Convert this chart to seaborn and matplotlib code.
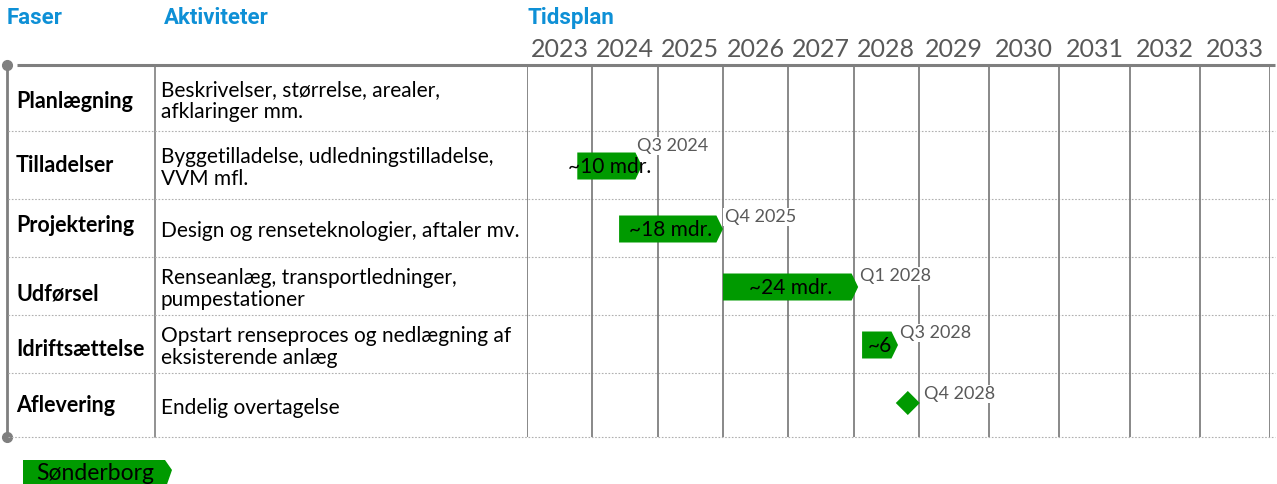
import numpy as np
import matplotlib.pyplot as plt
import seaborn as sns
from matplotlib.patches import Polygon

sns.set_theme(style="white")
plt.rcParams['font.family'] = ['Lato', 'DejaVu Sans']

# --- data -------------------------------------------------------------
phases = ["Planlægning", "Tilladelser", "Projektering", "Udførsel",
          "Idriftsættelse", "Aflevering"]
activities = ["Beskrivelser, størrelse, arealer,\nafklaringer mm.",
              "Byggetilladelse, udledningstilladelse,\nVVM mfl.",
              "Design og renseteknologier, aftaler mv.",
              "Renseanlæg, transportledninger,\npumpestationer",
              "Opstart renseproces og nedlægning af\neksisterende anlæg",
              "Endelig overtagelse"]
years = list(range(2023, 2034))

# bars (phase index, start year, end year, label in bar, end label)
bar_rows = [1, 2, 3, 4]
bar_start = [2023.77, 2024.41, 2026.0, 2028.13]
bar_end = [2024.76, 2026.0, 2028.07, 2028.68]
bar_text = ["~10 mdr.", "~18 mdr.", "~24 mdr.", "~6"]
bar_end_label = ["Q3 2024", "Q4 2025", "Q1 2028", "Q3 2028"]

milestone_row = 5
milestone_x = 2028.83
milestone_label = "Q4 2028"

legend_label = "Sønderborg"

# --- layout (pixels) ----------------------------------------------------
W, H = 1277, 484
row_edges = [65, 131, 199, 257, 315, 373, 437]
row_mid = [(a + b) / 2 for a, b in zip(row_edges[:-1], row_edges[1:])]
phase_dy = [3, 0, -2, 8, 6, 1]
label_dy = [-20, -12, -11, -12, -9]
GREEN = "#009a00"
GREY = "#7f7f7f"
BLUE = "#0e90d6"
TXT_GREY = "#595959"

fig = plt.figure(figsize=(W / 100, H / 100), dpi=100)

# table frame in pixel coordinates
tab = fig.add_axes([0, 0, 1, 1])
tab.set_xlim(0, W)
tab.set_ylim(H, 0)
tab.axis("off")

hdr = dict(color=BLUE, fontsize=16, fontweight="bold", family=["Roboto", "DejaVu Sans"], va="center")
tab.text(7, 18, "Faser", **hdr)
tab.text(164, 18, "Aktiviteter", **hdr)
tab.text(527, 18, "Tidsplan", **hdr)

tab.plot([17, 1275], [65, 65], color=GREY, lw=2.2, solid_capstyle="butt")
tab.plot([7, 7], [65, 437], color=GREY, lw=2)
tab.plot([7, 7], [65, 437], "o", color=GREY, ms=7)
tab.plot([155, 155], [65, 437], color=GREY, lw=1.2)
for y in row_edges[1:]:
    tab.plot([8, 1275], [y, y], color="#b0b0b0", lw=0.8, ls=(0, (1.5, 1.5)))

for i, (p, a) in enumerate(zip(phases, activities)):
    tab.text(16, row_mid[i] + phase_dy[i], p, fontsize=15.5, fontweight="bold",
             color="black", va="center", ha="left")
    tab.text(161, row_mid[i] + 3, a, fontsize=15, color="black",
             va="center", ha="left", linespacing=1.15)

# legend
tab.add_patch(Polygon([[23, 460], [165, 460], [172, 470], [165, 490], [23, 490]],
                      closed=True, color=GREEN, lw=0))
tab.text(95, 473, legend_label, fontsize=16.5, ha="center", va="center", color="black")

# --- timeline axes -----------------------------------------------------
k = 70.2 / 65.3


def fwd(x):
    x = np.asarray(x, dtype=float)
    return np.where(x <= 2029, x, 2029 + (x - 2029) * k)


def inv(x):
    x = np.asarray(x, dtype=float)
    return np.where(x <= 2029, x, 2029 + (x - 2029) / k)


ax = fig.add_axes([527 / W, 1 - 437 / H, (1270 - 527) / W, (437 - 65) / H])
ax.patch.set_alpha(0)
ax.set_xscale("function", functions=(fwd, inv))
ax.set_xlim(2023, 2034)
ax.set_ylim(437, 65)
for s in ax.spines.values():
    s.set_visible(False)
ax.set_yticks([])
ax.xaxis.tick_top()
ax.set_xticks([y + 0.5 for y in years], [str(y) for y in years])
ax.tick_params(axis="x", length=0, pad=3, labelsize=18, labelcolor=TXT_GREY)
ax.set_xticks([], minor=True)

for yb in years + [2034]:
    ax.plot([yb, yb], [65, 437], color=GREY, lw=1.3, zorder=1)

bh = 27
tip = 0.1
for j, r in enumerate(bar_rows):
    yc = row_mid[r] + 1
    x0, x1 = bar_start[j], bar_end[j]
    poly = [[x0, yc - bh / 2], [x1 - tip, yc - bh / 2], [x1, yc],
            [x1 - tip, yc + bh / 2], [x0, yc + bh / 2]]
    ax.add_patch(Polygon(poly, closed=True, color=GREEN, lw=0, zorder=3))
    ax.text((x0 + x1) / 2, yc + 1, bar_text[j], fontsize=15, color="black",
            ha="center", va="center", zorder=4)
    ax.text(x1 - 0.08 if j == 0 else x1 + 0.03, yc + label_dy[j], bar_end_label[j],
            fontsize=13, color=TXT_GREY, ha="left", va="center", zorder=2,
            bbox=dict(facecolor="white", edgecolor="none", pad=1))

sns.scatterplot(x=[milestone_x], y=[row_mid[milestone_row] - 2], marker="D", s=150,
                color=GREEN, edgecolor="none", ax=ax, zorder=3, legend=False)
ax.text(milestone_x + 0.24, row_mid[milestone_row] - 2 + label_dy[4], milestone_label,
        fontsize=13, color=TXT_GREY, ha="left", va="center", zorder=2,
        bbox=dict(facecolor="white", edgecolor="none", pad=1))
ax.set_xlim(2023, 2034)
ax.set_ylim(437, 65)
ax.set_xlabel("")
ax.set_ylabel("")

fig.savefig("out.png", dpi=100)
